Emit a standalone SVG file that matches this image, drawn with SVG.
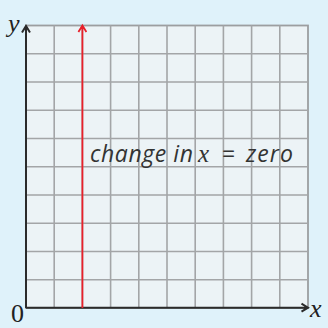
<svg xmlns="http://www.w3.org/2000/svg" width="328" height="328" viewBox="0 0 328 328">
<defs>
<style>
.grid{stroke:#a3a5a7;stroke-width:1.6;fill:none}
.axis{stroke:#2b2b2b;stroke-width:2;fill:none}
.red{stroke:#e8202a;stroke-width:1.8;fill:none}
.lbl{font-family:"Liberation Serif",serif;font-style:italic;fill:#222}
.num{font-family:"Liberation Serif",serif;font-style:normal;fill:#222}
.note{font-family:"Open Sans","DejaVu Sans",sans-serif;font-style:italic;font-size:23px;fill:#333}
</style>
</defs>
<rect width="328" height="328" fill="#dff2fa"/>
<g id="grid">
<rect x="26" y="25.5" width="282" height="282.5" fill="#ecf3f6" stroke="#9c9ea0" stroke-width="1.8"/>
<path class="grid" d="M54.2 25.5V308M82.4 25.5V308M110.6 25.5V308M138.8 25.5V308M167 25.5V308M195.2 25.5V308M223.4 25.5V308M251.6 25.5V308M279.8 25.5V308M26 53.75H308M26 82H308M26 110.25H308M26 138.5H308M26 166.75H308M26 195H308M26 223.25H308M26 251.5H308M26 279.75H308"/>
</g>
<g id="connectors">
<path class="axis" d="M26 308V26M22 32.5L26 26L30 32.5"/>
<path class="axis" d="M26 307.7H308M301.5 303.7L308 307.7L301.5 311.7"/>
<path class="red" d="M82.4 308V25.5M78.4 32L82.4 25.5L86.4 32"/>
</g>
<g id="labels">
<text class="lbl" x="8" y="32" font-size="26">y</text>
<text class="num" x="11" y="322" font-size="26">0</text>
<text class="lbl" x="310" y="317" font-size="26">x</text>
<text class="note" y="162"><tspan x="90" textLength="103" lengthAdjust="spacing">change in</tspan><tspan x="198" font-family="Liberation Serif" font-size="25">x</tspan><tspan x="222" font-style="normal">=</tspan><tspan x="246" textLength="47" lengthAdjust="spacing">zero</tspan></text>
</g>
</svg>
